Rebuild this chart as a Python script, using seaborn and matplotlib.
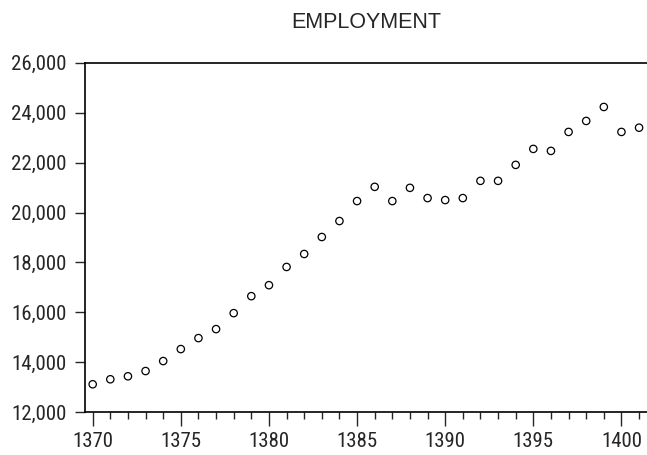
import matplotlib
matplotlib.use("Agg")
import matplotlib.pyplot as plt
import matplotlib.ticker as mticker
import seaborn as sns
import pandas as pd

years = list(range(1370, 1402))
employment = [13120, 13320, 13440, 13650, 14050, 14530, 14970, 15330, 15970, 16650,
              17090, 17820, 18340, 19020, 19660, 20460, 21030, 20460, 20990, 20580,
              20500, 20580, 21270, 21270, 21910, 22550, 22470, 23230, 23670, 24230,
              23230, 23400]

df = pd.DataFrame({"year": years, "employment": employment})

sns.set_style("white")
plt.rcParams['font.family'] = ['Roboto Condensed', 'DejaVu Sans']

fig = plt.figure(figsize=(6.47, 4.55), dpi=100)
ax = fig.add_axes([0.131, 0.094, 0.869, 0.768])

sns.scatterplot(data=df, x="year", y="employment", ax=ax, marker="o", s=28,
                facecolors="none", edgecolor="black", linewidth=0.9, legend=False)

ax.set_xlim(1369.55, 1401.45)
ax.set_ylim(12000, 26000)
ax.xaxis.set_major_locator(mticker.MultipleLocator(5))
ax.xaxis.set_minor_locator(mticker.MultipleLocator(1))
ax.yaxis.set_major_locator(mticker.MultipleLocator(2000))
ax.yaxis.set_major_formatter(mticker.FuncFormatter(lambda v, p: f"{int(v):,}"))

ax.tick_params(axis='x', which='major', direction='out', length=10, width=1, labelsize=15, pad=4, bottom=True)
ax.tick_params(axis='x', which='minor', direction='out', length=5, width=1, bottom=True)
ax.tick_params(axis='y', which='major', direction='out', length=7, width=1, labelsize=15, pad=6, left=True)

for s in ax.spines.values():
    s.set_color("black")
    s.set_linewidth(1.2)
ax.spines['right'].set_visible(False)

ax.set_xlabel("")
ax.set_ylabel("")
ax.set_title("EMPLOYMENT", fontsize=15.5, pad=25, family=['Liberation Sans', 'DejaVu Sans'])

fig.savefig("out.png", dpi=100)
